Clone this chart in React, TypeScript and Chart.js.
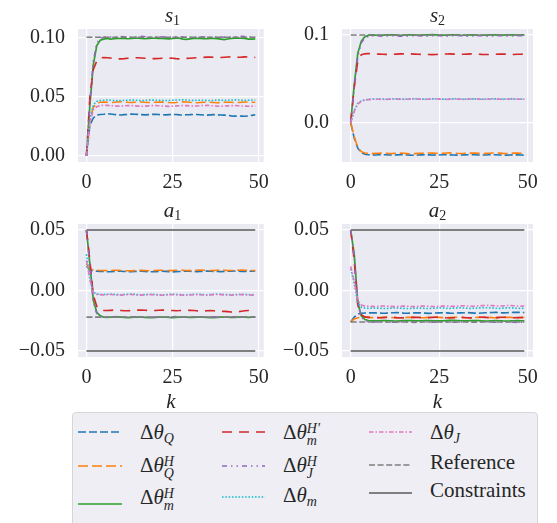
import React, { useEffect, useRef } from "react";
import { Chart, registerables } from "chart.js";

Chart.register(...registerables);

// ---------- data ----------
const K = [
  0, 1, 2, 3, 4, 5, 6, 7, 8, 9, 10, 11, 12, 13, 14, 15, 16, 17, 18, 19,
  20, 21, 22, 23, 24, 25, 26, 27, 28, 29, 30, 31, 32, 33, 34, 35, 36, 37, 38, 39,
  40, 41, 42, 43, 44, 45, 46, 47, 48, 49,
];
const K_ENDS = [0, 49];
const X_TICKS = [0, 25, 50];

// s1
const S1_Q = [
  0, 0.026, 0.032, 0.0345, 0.035, 0.0352, 0.0355, 0.0353, 0.035, 0.0347,
  0.0345, 0.0348, 0.035, 0.0353, 0.0352, 0.035, 0.0348, 0.0346, 0.0348, 0.035,
  0.0352, 0.0349, 0.0347, 0.0346, 0.0348, 0.035, 0.0349, 0.0346, 0.0345, 0.0347,
  0.0348, 0.035, 0.0349, 0.0347, 0.0345, 0.0344, 0.0346, 0.0348, 0.0346, 0.0345,
  0.0344, 0.0342, 0.0338, 0.0336, 0.0337, 0.0336, 0.0335, 0.0337, 0.0342, 0.0347,
];
const S1_QH = [
  0, 0.03, 0.041, 0.0445, 0.0452, 0.0455, 0.0453, 0.045, 0.0452, 0.0455,
  0.0457, 0.0455, 0.0452, 0.045, 0.0453, 0.0456, 0.0455, 0.0452, 0.045, 0.0451,
  0.0453, 0.0455, 0.0454, 0.0452, 0.045, 0.0449, 0.0451, 0.0454, 0.0456, 0.0455,
  0.0452, 0.045, 0.0448, 0.045, 0.0452, 0.0454, 0.0453, 0.0451, 0.0449, 0.045,
  0.0452, 0.0453, 0.0452, 0.045, 0.0451, 0.0453, 0.0455, 0.0454, 0.0452, 0.0453,
];
const S1_MH = [
  0, 0.043, 0.077, 0.093, 0.0975, 0.0985, 0.099, 0.0985, 0.0988, 0.099,
  0.0992, 0.099, 0.0988, 0.099, 0.0992, 0.0993, 0.099, 0.0988, 0.099, 0.0992,
  0.0993, 0.0991, 0.099, 0.0988, 0.0987, 0.099, 0.0992, 0.0993, 0.0985, 0.0982,
  0.0987, 0.099, 0.0992, 0.0991, 0.0989, 0.0988, 0.099, 0.0991, 0.0989, 0.0985,
  0.098, 0.0986, 0.099, 0.0993, 0.0994, 0.0992, 0.099, 0.0985, 0.0984, 0.0986,
];
const S1_MHP = [
  0, 0.05, 0.073, 0.08, 0.0825, 0.083, 0.0828, 0.0825, 0.082, 0.0818,
  0.0818, 0.082, 0.0823, 0.0826, 0.0828, 0.0828, 0.0826, 0.0824, 0.0822, 0.082,
  0.082, 0.0822, 0.0824, 0.0826, 0.0825, 0.0823, 0.082, 0.0818, 0.082, 0.0822,
  0.0824, 0.0826, 0.0828, 0.0829, 0.0831, 0.0833, 0.0834, 0.0832, 0.083, 0.083,
  0.0832, 0.0834, 0.0835, 0.0834, 0.0832, 0.0833, 0.0835, 0.0834, 0.0832, 0.083,
];
const S1_JH = [
  0, 0.045, 0.08, 0.095, 0.099, 0.1, 0.1005, 0.1002, 0.1, 0.1003,
  0.1006, 0.1005, 0.1002, 0.1, 0.1003, 0.1006, 0.1008, 0.1005, 0.1002, 0.1,
  0.1003, 0.1006, 0.1004, 0.1001, 0.1, 0.1002, 0.1004, 0.1006, 0.1003, 0.1,
  0.0999, 0.1001, 0.1003, 0.1005, 0.1003, 0.1001, 0.1, 0.1002, 0.1004, 0.1003,
  0.1001, 0.1, 0.1002, 0.1004, 0.1006, 0.1008, 0.1006, 0.1003, 0.1001, 0.1,
];
const S1_M = [
  0, 0.031, 0.043, 0.046, 0.0468, 0.047, 0.0472, 0.047, 0.0468, 0.0466,
  0.0467, 0.0469, 0.047, 0.0471, 0.047, 0.0468, 0.0467, 0.0468, 0.047, 0.0471,
  0.047, 0.0469, 0.0468, 0.0467, 0.0468, 0.047, 0.0471, 0.0472, 0.0473, 0.0471,
  0.0469, 0.0468, 0.0469, 0.047, 0.0469, 0.0468, 0.0467, 0.0469, 0.0471, 0.047,
  0.0468, 0.0469, 0.0471, 0.0473, 0.0472, 0.047, 0.0469, 0.047, 0.0471, 0.0472,
];
const S1_J = [
  0, 0.028, 0.039, 0.0415, 0.0425, 0.0428, 0.0426, 0.0424, 0.0422, 0.042,
  0.0421, 0.0423, 0.0425, 0.0424, 0.0422, 0.042, 0.0419, 0.042, 0.0422, 0.0424,
  0.0425, 0.0423, 0.0421, 0.042, 0.0418, 0.042, 0.0422, 0.0423, 0.0425, 0.0424,
  0.0422, 0.042, 0.0421, 0.0423, 0.0425, 0.0426, 0.0424, 0.0422, 0.042, 0.0419,
  0.042, 0.0422, 0.0424, 0.0425, 0.0423, 0.0421, 0.042, 0.0419, 0.042, 0.0421,
];
const S1_REF = [0.1, 0.1];

// s2
const S2_Q = [
  0, -0.0175, -0.029, -0.034, -0.036, -0.0365, -0.0367, -0.0368, -0.0366, -0.0365,
  -0.0366, -0.0368, -0.0369, -0.0367, -0.0365, -0.0366, -0.0368, -0.037, -0.0371, -0.0369,
  -0.0367, -0.0366, -0.0367, -0.0369, -0.037, -0.0368, -0.0366, -0.0365, -0.0367, -0.0369,
  -0.037, -0.0369, -0.0367, -0.0366, -0.0365, -0.0366, -0.0368, -0.0369, -0.0368, -0.0366,
  -0.0365, -0.0366, -0.0368, -0.0369, -0.037, -0.0368, -0.0366, -0.0367, -0.0369, -0.037,
];
const S2_QH = [
  0, -0.016, -0.028, -0.033, -0.0345, -0.035, -0.0352, -0.035, -0.0348, -0.0347,
  -0.0349, -0.0351, -0.035, -0.0348, -0.0346, -0.0349, -0.0352, -0.0355, -0.0353, -0.035,
  -0.0348, -0.0346, -0.0345, -0.0347, -0.0349, -0.035, -0.0348, -0.0345, -0.0344, -0.0346,
  -0.0349, -0.0351, -0.035, -0.0348, -0.0346, -0.0347, -0.0349, -0.0351, -0.035, -0.0348,
  -0.0346, -0.0345, -0.0347, -0.035, -0.0352, -0.035, -0.0347, -0.0346, -0.0348, -0.035,
];
const S2_MH = [
  0, 0.043, 0.079, 0.093, 0.098, 0.0995, 0.1, 0.0998, 0.0997, 0.0998,
  0.1, 0.1001, 0.1, 0.0998, 0.0997, 0.0999, 0.1001, 0.1002, 0.1, 0.0999,
  0.0998, 0.1, 0.1002, 0.1003, 0.1001, 0.0999, 0.0998, 0.0999, 0.1001, 0.1002,
  0.1, 0.0998, 0.0997, 0.0999, 0.1001, 0.1, 0.0998, 0.0997, 0.0999, 0.1001,
  0.1002, 0.1, 0.0998, 0.0999, 0.1, 0.1001, 0.1, 0.0999, 0.1, 0.1002,
];
const S2_MHP = [
  0, 0.04, 0.07, 0.0775, 0.0785, 0.0788, 0.0786, 0.0784, 0.0782, 0.078,
  0.0779, 0.0778, 0.078, 0.0782, 0.0784, 0.0785, 0.0786, 0.0784, 0.0782, 0.078,
  0.0779, 0.0778, 0.0777, 0.0776, 0.0778, 0.078, 0.0782, 0.0783, 0.0784, 0.0782,
  0.078, 0.0779, 0.078, 0.0782, 0.0784, 0.0783, 0.0781, 0.0779, 0.0778, 0.0777,
  0.0778, 0.078, 0.0782, 0.0783, 0.0781, 0.0779, 0.0778, 0.078, 0.0781, 0.0782,
];
const S2_JH = [
  0, 0.04, 0.075, 0.091, 0.097, 0.0985, 0.099, 0.0992, 0.0988, 0.0985,
  0.0988, 0.0991, 0.0993, 0.099, 0.0987, 0.0985, 0.0988, 0.0991, 0.0993, 0.0991,
  0.0988, 0.0986, 0.0988, 0.0991, 0.0993, 0.0992, 0.0989, 0.0987, 0.0989, 0.0992,
  0.0994, 0.0991, 0.0988, 0.0986, 0.0988, 0.0991, 0.0993, 0.0991, 0.0988, 0.0986,
  0.0989, 0.0992, 0.0994, 0.0991, 0.0988, 0.0987, 0.0989, 0.0992, 0.0993, 0.0991,
];
const S2_M = [
  0, 0.014, 0.022, 0.025, 0.026, 0.0265, 0.0268, 0.027, 0.0271, 0.027,
  0.0268, 0.0269, 0.0271, 0.0272, 0.0271, 0.0269, 0.027, 0.0272, 0.0274, 0.0272,
  0.027, 0.0269, 0.027, 0.0272, 0.0273, 0.0271, 0.0269, 0.0268, 0.027, 0.0272,
  0.0273, 0.0271, 0.0269, 0.027, 0.0272, 0.0271, 0.0269, 0.0268, 0.027, 0.0271,
  0.0273, 0.0272, 0.027, 0.0269, 0.027, 0.0272, 0.0271, 0.0269, 0.027, 0.0271,
];
const S2_J = [
  0, 0.013, 0.021, 0.0245, 0.0258, 0.0263, 0.0266, 0.0268, 0.0267, 0.0265,
  0.0266, 0.0268, 0.027, 0.0269, 0.0267, 0.0266, 0.0268, 0.027, 0.0271, 0.0269,
  0.0267, 0.0266, 0.0268, 0.027, 0.0271, 0.0269, 0.0267, 0.0266, 0.0268, 0.027,
  0.0269, 0.0267, 0.0266, 0.0268, 0.027, 0.0271, 0.0269, 0.0267, 0.0266, 0.0268,
  0.027, 0.0269, 0.0267, 0.0266, 0.0268, 0.027, 0.0269, 0.0268, 0.0267, 0.0268,
];
const S2_REF = [0.1, 0.1];

// a1
const A1_Q = [
  0.02, 0.017, 0.0165, 0.016, 0.0158, 0.0157, 0.0155, 0.0156, 0.0158, 0.016,
  0.0159, 0.0157, 0.0156, 0.0155, 0.0157, 0.0159, 0.016, 0.0158, 0.0156, 0.0155,
  0.0156, 0.0158, 0.0159, 0.0158, 0.0156, 0.0154, 0.0155, 0.0157, 0.0159, 0.016,
  0.0159, 0.0157, 0.0156, 0.0157, 0.0159, 0.016, 0.0159, 0.0158, 0.0157, 0.0156,
  0.0157, 0.0159, 0.016, 0.0161, 0.016, 0.0158, 0.0157, 0.0158, 0.016, 0.0161,
];
const A1_QH = [
  0.022, 0.0175, 0.017, 0.0168, 0.0166, 0.0165, 0.0164, 0.0165, 0.0167, 0.0168,
  0.0166, 0.0164, 0.0163, 0.0162, 0.0164, 0.0166, 0.0167, 0.0165, 0.0163, 0.0164,
  0.0166, 0.0168, 0.0167, 0.0165, 0.0164, 0.0165, 0.0167, 0.0168, 0.0167, 0.0165,
  0.0164, 0.0165, 0.0167, 0.0169, 0.0168, 0.0166, 0.0165, 0.0166, 0.0168, 0.0169,
  0.0168, 0.0166, 0.0165, 0.0166, 0.0168, 0.0169, 0.0168, 0.0166, 0.0165, 0.0166,
];
const A1_MH = [
  0.05, 0.022, -0.008, -0.018, -0.021, -0.022, -0.0222, -0.022, -0.0219, -0.0218,
  -0.022, -0.0222, -0.0224, -0.0222, -0.022, -0.0219, -0.0221, -0.0223, -0.0225, -0.0224,
  -0.0222, -0.022, -0.0219, -0.0221, -0.0223, -0.0224, -0.0222, -0.022, -0.0219, -0.022,
  -0.0222, -0.0223, -0.0221, -0.0219, -0.022, -0.0222, -0.0224, -0.0225, -0.0223, -0.0221,
  -0.022, -0.0221, -0.0223, -0.0222, -0.022, -0.0219, -0.022, -0.0222, -0.0221, -0.022,
];
const A1_MHP = [
  0.05, 0.025, -0.004, -0.013, -0.0158, -0.0165, -0.0166, -0.0164, -0.0162, -0.0163,
  -0.0165, -0.0167, -0.0168, -0.0166, -0.0164, -0.0162, -0.0161, -0.0163, -0.0165, -0.0166,
  -0.0165, -0.0163, -0.0162, -0.0163, -0.0165, -0.0166, -0.0167, -0.0166, -0.0164, -0.0163,
  -0.0164, -0.0166, -0.0168, -0.017, -0.0169, -0.0167, -0.0166, -0.0168, -0.017, -0.0172,
  -0.0173, -0.0175, -0.0178, -0.018, -0.0176, -0.0172, -0.0168, -0.0165, -0.0163, -0.0162,
];
const A1_JH = [
  0.05, 0.02, -0.01, -0.019, -0.0212, -0.0218, -0.022, -0.0219, -0.0217, -0.0216,
  -0.0218, -0.022, -0.0221, -0.0219, -0.0217, -0.0216, -0.0218, -0.022, -0.0222, -0.0221,
  -0.0219, -0.0218, -0.022, -0.0221, -0.0219, -0.0217, -0.0216, -0.0218, -0.022, -0.0221,
  -0.0219, -0.0217, -0.0218, -0.022, -0.0222, -0.022, -0.0218, -0.0217, -0.0219, -0.0221,
  -0.0222, -0.022, -0.0218, -0.0217, -0.0219, -0.0221, -0.022, -0.0218, -0.0219, -0.022,
];
const A1_M = [
  0.03, 0.01, -0.0015, -0.0028, -0.0032, -0.0033, -0.0031, -0.003, -0.0032, -0.0034,
  -0.0035, -0.0033, -0.0031, -0.003, -0.0032, -0.0034, -0.0035, -0.0034, -0.0032, -0.0031,
  -0.0033, -0.0035, -0.0036, -0.0034, -0.0032, -0.0031, -0.0032, -0.0034, -0.0035, -0.0036,
  -0.0034, -0.0032, -0.0031, -0.0032, -0.0034, -0.0035, -0.0033, -0.0031, -0.003, -0.0031,
  -0.0033, -0.0034, -0.0035, -0.0034, -0.0032, -0.0031, -0.0032, -0.0034, -0.0035, -0.0034,
];
const A1_J = [
  0.025, 0.009, -0.002, -0.0032, -0.0035, -0.0036, -0.0034, -0.0033, -0.0035, -0.0037,
  -0.0038, -0.0036, -0.0034, -0.0033, -0.0035, -0.0037, -0.0038, -0.0037, -0.0035, -0.0034,
  -0.0036, -0.0038, -0.0039, -0.0037, -0.0035, -0.0034, -0.0035, -0.0037, -0.0038, -0.0039,
  -0.0037, -0.0035, -0.0034, -0.0035, -0.0037, -0.0038, -0.0036, -0.0034, -0.0033, -0.0034,
  -0.0036, -0.0037, -0.0038, -0.0037, -0.0035, -0.0034, -0.0035, -0.0037, -0.0038, -0.0037,
];
const A1_REF = [-0.022, -0.022];

// a2
const A2_Q = [
  -0.026, -0.022, -0.0195, -0.0188, -0.0186, -0.0185, -0.0184, -0.0185, -0.0187, -0.0188,
  -0.0187, -0.0185, -0.0184, -0.0183, -0.0185, -0.0187, -0.0188, -0.0187, -0.0185, -0.0184,
  -0.0185, -0.0187, -0.0189, -0.0188, -0.0186, -0.0185, -0.0184, -0.0185, -0.0187, -0.0188,
  -0.0186, -0.0185, -0.0184, -0.0183, -0.0185, -0.0187, -0.0188, -0.0186, -0.0184, -0.0183,
  -0.0182, -0.0181, -0.0183, -0.0185, -0.0184, -0.0182, -0.0181, -0.018, -0.0181, -0.0182,
];
const A2_QH = [
  -0.026, -0.0235, -0.0225, -0.0222, -0.0221, -0.0222, -0.0224, -0.0225, -0.0224, -0.0222,
  -0.0221, -0.0222, -0.0224, -0.0225, -0.0226, -0.0224, -0.0222, -0.0221, -0.0222, -0.0224,
  -0.0225, -0.0224, -0.0222, -0.0221, -0.022, -0.0222, -0.0224, -0.0225, -0.0224, -0.0222,
  -0.0221, -0.0222, -0.0224, -0.0225, -0.0226, -0.0224, -0.0222, -0.0221, -0.022, -0.0222,
  -0.0224, -0.0225, -0.0224, -0.0222, -0.0221, -0.0222, -0.0224, -0.0225, -0.0224, -0.0223,
];
const A2_MH = [
  0.05, 0.03, -0.01, -0.021, -0.024, -0.0248, -0.025, -0.0251, -0.025, -0.0249,
  -0.0248, -0.025, -0.0252, -0.0253, -0.0251, -0.0249, -0.0248, -0.0249, -0.0251, -0.0252,
  -0.025, -0.0249, -0.0248, -0.025, -0.0251, -0.0252, -0.0251, -0.0249, -0.0247, -0.0246,
  -0.0248, -0.025, -0.0252, -0.0251, -0.0249, -0.0248, -0.0249, -0.0251, -0.0253, -0.0252,
  -0.025, -0.0249, -0.025, -0.0252, -0.0253, -0.0252, -0.025, -0.0249, -0.025, -0.0251,
];
const A2_MHP = [
  0.05, 0.025, -0.012, -0.02, -0.0218, -0.0222, -0.0223, -0.0224, -0.0225, -0.0224,
  -0.0222, -0.0221, -0.0222, -0.0224, -0.0225, -0.0226, -0.0224, -0.0222, -0.0221, -0.0222,
  -0.0224, -0.0225, -0.0224, -0.0222, -0.0221, -0.0222, -0.0224, -0.0226, -0.0227, -0.0225,
  -0.0223, -0.0222, -0.0223, -0.0225, -0.0226, -0.0224, -0.0222, -0.0221, -0.0222, -0.0224,
  -0.0225, -0.0224, -0.0222, -0.0221, -0.0222, -0.0224, -0.0225, -0.0224, -0.0223, -0.0222,
];
const A2_JH = [
  0.05, 0.028, -0.01, -0.022, -0.025, -0.0258, -0.026, -0.0261, -0.026, -0.0258,
  -0.0259, -0.0261, -0.0263, -0.0262, -0.026, -0.0259, -0.026, -0.0262, -0.0264, -0.0262,
  -0.026, -0.0259, -0.0261, -0.0263, -0.0262, -0.026, -0.0259, -0.0258, -0.026, -0.0262,
  -0.0263, -0.0261, -0.0259, -0.026, -0.0262, -0.0263, -0.0261, -0.0259, -0.0258, -0.026,
  -0.0262, -0.0263, -0.0261, -0.0259, -0.026, -0.0262, -0.0263, -0.0264, -0.0262, -0.026,
];
const A2_M = [
  0.018, 0.006, -0.01, -0.0138, -0.0145, -0.0147, -0.0146, -0.0145, -0.0146, -0.0148,
  -0.0149, -0.0147, -0.0145, -0.0144, -0.0146, -0.0148, -0.0149, -0.0148, -0.0146, -0.0145,
  -0.0146, -0.0148, -0.0149, -0.0147, -0.0145, -0.0144, -0.0145, -0.0147, -0.0148, -0.0146,
  -0.0144, -0.0143, -0.0145, -0.0147, -0.0148, -0.0146, -0.0144, -0.0143, -0.0142, -0.0143,
  -0.0145, -0.0147, -0.0148, -0.0146, -0.0144, -0.0143, -0.0145, -0.0147, -0.0148, -0.0147,
];
const A2_J = [
  0.02, 0.008, -0.008, -0.012, -0.0128, -0.013, -0.0131, -0.0132, -0.013, -0.0128,
  -0.0129, -0.0131, -0.0133, -0.0132, -0.013, -0.0129, -0.013, -0.0132, -0.0133, -0.0131,
  -0.0129, -0.0128, -0.013, -0.0132, -0.0133, -0.0131, -0.0129, -0.0128, -0.013, -0.0131,
  -0.0129, -0.0127, -0.0126, -0.0128, -0.013, -0.0129, -0.0127, -0.0125, -0.0124, -0.0123,
  -0.0125, -0.0127, -0.0128, -0.0127, -0.0125, -0.0124, -0.0126, -0.0128, -0.0129, -0.0128,
];
const A2_REF = [-0.026, -0.026];

const CONSTRAINT_UP = [0.05, 0.05];
const CONSTRAINT_LO = [-0.05, -0.05];

const S1_YTICKS = [0, 0.05, 0.1];
const S1_YLABELS = ["0.00", "0.05", "0.10"];
const S2_YTICKS = [0, 0.1];
const S2_YLABELS = ["0.0", "0.1"];
const A_YTICKS = [-0.05, 0, 0.05];
const A_YLABELS = ["\u22120.05", "0.00", "0.05"];
const X_LABELS = ["0", "25", "50"];

// ---------- styles ----------
const FONT = "'Liberation Serif', 'DejaVu Serif', serif";
const TXT = "#262626";
const GRAY = "#7f7f7f";

const STYLES = [
  { color: "#1f77b4", dash: [8, 3], width: 1.6 },
  { color: "#ff7f0e", dash: [10, 4], width: 1.6 },
  { color: "#2ca02c", dash: [] as number[], width: 1.7 },
  { color: "#d62728", dash: [10, 7], width: 1.6 },
  { color: "#9467bd", dash: [5, 4, 1.5, 4, 1.5, 4], width: 1.6 },
  { color: "#17becf", dash: [1.6, 1.7], width: 1.6 },
  { color: "#e377c2", dash: [4.5, 2, 1.5, 2], width: 1.6 },
];
const REF_STYLE = { color: GRAY, dash: [6, 2.6], width: 1.6 };
const CONS_STYLE = { color: GRAY, dash: [] as number[], width: 2 };

const bgPlugin = {
  id: "bgArea",
  beforeDraw(chart: any) {
    const { ctx, chartArea } = chart;
    ctx.save();
    ctx.fillStyle = "#EAEAF2";
    ctx.fillRect(chartArea.left, chartArea.top, chartArea.right - chartArea.left, chartArea.bottom - chartArea.top);
    ctx.restore();
  },
};

type PanelProps = {
  left: number;
  top: number;
  width: number;
  height: number;
  areaLeft: number;
  areaRight: number;
  series: number[][];
  refLine: number[];
  constraints: boolean;
  yMin: number;
  yMax: number;
  yTicks: number[];
  yLabels: string[];
  showK: boolean;
};

function Panel(p: PanelProps) {
  const ref = useRef<HTMLCanvasElement>(null);
  useEffect(() => {
    const datasets: any[] = p.series.map((arr, i) => ({
      data: K.map((k, j) => ({ x: k, y: arr[j] })),
      borderColor: STYLES[i].color,
      borderWidth: STYLES[i].width,
      borderDash: STYLES[i].dash,
      pointRadius: 0,
      tension: 0,
      fill: false,
      order: -i,
    }));
    datasets.push({
      data: K_ENDS.map((k, j) => ({ x: k, y: p.refLine[j] })),
      borderColor: REF_STYLE.color,
      borderWidth: REF_STYLE.width,
      borderDash: REF_STYLE.dash,
      pointRadius: 0,
      order: -10,
    });
    if (p.constraints) {
      [CONSTRAINT_UP, CONSTRAINT_LO].forEach((c) =>
        datasets.push({
          data: K_ENDS.map((k, j) => ({ x: k, y: c[j] })),
          borderColor: CONS_STYLE.color,
          borderWidth: CONS_STYLE.width,
          borderDash: CONS_STYLE.dash,
          pointRadius: 0,
          order: -11,
        })
      );
    }
    const axisHeight = p.height - 162;
    const chart = new Chart(ref.current as HTMLCanvasElement, {
      type: "line",
      data: { datasets },
      plugins: [bgPlugin],
      options: {
        animation: false,
        responsive: false,
        maintainAspectRatio: false,
        devicePixelRatio: 1,
        events: [],
        layout: { padding: { left: 0, right: p.width - p.areaRight, top: 29, bottom: 0 } },
        plugins: { legend: { display: false }, tooltip: { enabled: false }, title: { display: false } },
        scales: {
          x: {
            type: "linear",
            min: -2.45,
            max: 51.45,
            border: { display: false },
            grid: { color: "#ffffff", lineWidth: 1.2, drawTicks: false },
            ticks: {
              padding: 9,
              color: TXT,
              font: { family: FONT, size: 20 },
              maxRotation: 0,
              callback: (v: any) => {
                const i = X_TICKS.indexOf(Number(v));
                return i >= 0 ? X_LABELS[i] : "";
              },
            },
            afterBuildTicks: (s: any) => {
              s.ticks = X_TICKS.map((v) => ({ value: v }));
            },
            afterFit: (s: any) => {
              s.height = axisHeight;
            },
            title: {
              display: p.showK,
              text: "k",
              color: TXT,
              padding: { top: 0, bottom: 0 },
              font: { family: FONT, size: 21, style: "italic" },
            },
          },
          y: {
            type: "linear",
            min: p.yMin,
            max: p.yMax,
            border: { display: false },
            grid: { color: "#ffffff", lineWidth: 1.2, drawTicks: false },
            ticks: {
              padding: 13,
              color: TXT,
              font: { family: FONT, size: 20 },
              callback: (v: any) => {
                const i = p.yTicks.findIndex((t) => Math.abs(t - Number(v)) < 1e-9);
                return i >= 0 ? p.yLabels[i] : "";
              },
            },
            afterBuildTicks: (s: any) => {
              s.ticks = p.yTicks.map((v) => ({ value: v }));
            },
            afterFit: (s: any) => {
              s.width = p.areaLeft;
            },
          },
        },
      } as any,
    });
    return () => chart.destroy();
  }, []);
  return (
    <canvas
      ref={ref}
      width={p.width}
      height={p.height}
      style={{ position: "absolute", left: p.left, top: p.top, width: p.width, height: p.height, display: "block" }}
    />
  );
}

function PanelTitle({ cx, baseline, letter, idx }: { cx: number; baseline: number; letter: string; idx: string }) {
  return (
    <div
      style={{
        position: "absolute",
        left: cx - 40,
        width: 80,
        top: baseline - 17.6,
        textAlign: "center",
        fontSize: 21,
        lineHeight: "21px",
        whiteSpace: "nowrap",
      }}
    >
      <i>{letter}</i>
      <span style={{ fontSize: 14, position: "relative", top: 3 }}>{idx}</span>
    </div>
  );
}

function Scripts({ sub, sup, w }: { sub?: string; sup?: string; w: number }) {
  if (sub && !sup) {
    return <span style={{ fontSize: 14, fontStyle: "italic", position: "relative", top: 4 }}>{sub}</span>;
  }
  const s: React.CSSProperties = { position: "absolute", left: 0, fontSize: 14, lineHeight: "14px", fontStyle: "italic", whiteSpace: "nowrap" };
  return (
    <span style={{ display: "inline-block", position: "relative", width: w, height: 0 }}>
      <span style={{ ...s, bottom: 3.7 }}>{sup}</span>
      <span style={{ ...s, top: -5.2 }}>{sub}</span>
    </span>
  );
}

type LegendItem = {
  x1: number;
  x2: number;
  y: number;
  tx: number;
  base: number;
  style: { color: string; dash: number[]; width: number };
  text?: string;
  sub?: string;
  sup?: string;
  w?: number;
};

const LEGEND_ITEMS: LegendItem[] = [
  { x1: 78, x2: 122, y: 432, tx: 140, base: 440, style: STYLES[0], sub: "Q" },
  { x1: 78, x2: 122, y: 466, tx: 140, base: 473, style: STYLES[1], sub: "Q", sup: "H", w: 11 },
  { x1: 78, x2: 122, y: 504, tx: 140, base: 505, style: STYLES[2], sub: "m", sup: "H", w: 11 },
  { x1: 222, x2: 265, y: 432, tx: 283, base: 440, style: STYLES[3], sub: "m", sup: "H\u2032", w: 15 },
  { x1: 222, x2: 265, y: 466, tx: 283, base: 473, style: STYLES[4], sub: "J", sup: "H", w: 11 },
  { x1: 222, x2: 265, y: 497, tx: 283, base: 503, style: STYLES[5], sub: "m" },
  { x1: 369, x2: 412, y: 432, tx: 430, base: 440, style: STYLES[6], sub: "J" },
  { x1: 369, x2: 412, y: 465, tx: 430, base: 470, style: REF_STYLE, text: "Reference" },
  { x1: 369, x2: 412, y: 493, tx: 430, base: 498, style: CONS_STYLE, text: "Constraints" },
];

function Legend() {
  return (
    <>
      <div
        style={{
          position: "absolute",
          left: 72,
          top: 412,
          width: 464,
          height: 130,
          background: "#EEEEF4",
          border: "1px solid #D6D6D6",
          borderRadius: 4,
        }}
      />
      <svg width={557} height={523} style={{ position: "absolute", left: 0, top: 0 }}>
        {LEGEND_ITEMS.map((it, i) => (
          <line
            key={i}
            x1={it.x1}
            x2={it.x2}
            y1={it.y}
            y2={it.y}
            stroke={it.style.color}
            strokeWidth={it.style.width}
            strokeDasharray={it.style.dash.length ? it.style.dash.join(" ") : undefined}
          />
        ))}
      </svg>
      {LEGEND_ITEMS.map((it, i) => (
        <div
          key={"t" + i}
          style={{
            position: "absolute",
            left: it.tx,
            top: it.base - 17.6,
            fontSize: 21,
            lineHeight: "21px",
            whiteSpace: "nowrap",
          }}
        >
          {it.text ? (
            it.text
          ) : (
            <>
              {"\u0394"}
              <i>{"\u03b8"}</i>
              <Scripts sub={it.sub} sup={it.sup} w={it.w || 0} />
            </>
          )}
        </div>
      ))}
    </>
  );
}

export default function App() {
  return (
    <div
      style={{
        position: "fixed",
        left: 0,
        top: 0,
        width: 557,
        height: 523,
        overflow: "hidden",
        background: "#ffffff",
        fontFamily: FONT,
        color: TXT,
      }}
    >
      <Panel
        left={0} top={0} width={278} height={195} areaLeft={78} areaRight={267}
        series={[S1_Q, S1_QH, S1_MH, S1_MHP, S1_JH, S1_M, S1_J]}
        refLine={S1_REF} constraints={false}
        yMin={-0.0051} yMax={0.107} yTicks={S1_YTICKS} yLabels={S1_YLABELS} showK={false}
      />
      <Panel
        left={278} top={0} width={279} height={195} areaLeft={64} areaRight={255}
        series={[S2_Q, S2_QH, S2_MH, S2_MHP, S2_JH, S2_M, S2_J]}
        refLine={S2_REF} constraints={false}
        yMin={-0.0448} yMax={0.1068} yTicks={S2_YTICKS} yLabels={S2_YLABELS} showK={false}
      />
      <Panel
        left={0} top={195} width={278} height={220} areaLeft={78} areaRight={267}
        series={[A1_Q, A1_QH, A1_MH, A1_MHP, A1_JH, A1_M, A1_J]}
        refLine={A1_REF} constraints={true}
        yMin={-0.055} yMax={0.055} yTicks={A_YTICKS} yLabels={A_YLABELS} showK={true}
      />
      <Panel
        left={278} top={195} width={279} height={220} areaLeft={64} areaRight={255}
        series={[A2_Q, A2_QH, A2_MH, A2_MHP, A2_JH, A2_M, A2_J]}
        refLine={A2_REF} constraints={true}
        yMin={-0.055} yMax={0.055} yTicks={A_YTICKS} yLabels={A_YLABELS} showK={true}
      />
      <PanelTitle cx={172.5} baseline={23} letter="s" idx="1" />
      <PanelTitle cx={437.5} baseline={23} letter="s" idx="2" />
      <PanelTitle cx={172.5} baseline={218} letter="a" idx="1" />
      <PanelTitle cx={437.5} baseline={218} letter="a" idx="2" />
      <Legend />
    </div>
  );
}
